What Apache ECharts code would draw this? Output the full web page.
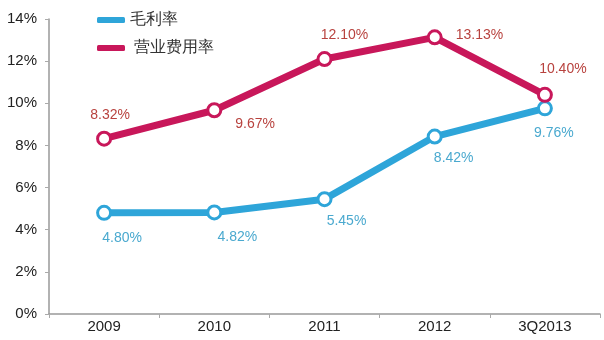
<!DOCTYPE html>
<html><head><meta charset="utf-8">
<script src="https://cdn.jsdelivr.net/npm/echarts@6/dist/echarts.min.js"></script>
<style>html,body{margin:0;padding:0;background:#fff}#c{width:604px;height:340px}</style>
</head><body><div id="c"></div>
<script>
const categories = ['2009','2010','2011','2012','3Q2013'];
const grossMargin = [4.80, 4.82, 5.45, 8.42, 9.76];
const expenseRate = [8.32, 9.67, 12.10, 13.13, 10.40];
const yTicks = [0,2,4,6,8,10,12,14];
const seriesNames = ['毛利率','营业费用率'];

const blue = '#2ea5d9', red = '#c8175a';
const font = '"Liberation Sans", Arial, sans-serif';
const redLabelPos = [
  {position:'top', offset:[6,-4]},
  {position:'right', offset:[8,14]},
  {position:'top', offset:[20,-4]},
  {position:'right', offset:[8,-2]},
  {position:'top', offset:[18,-6]}
];
const blueLabelPos = [
  {position:'bottom', offset:[18,5]},
  {position:'bottom', offset:[23,5]},
  {position:'bottom', offset:[22,2]},
  {position:'bottom', offset:[19,2]},
  {position:'bottom', offset:[9,5]}
];
const chart = echarts.init(document.getElementById('c'));
chart.setOption({
  animation:false,
  textStyle:{fontFamily:font},
  grid:{left:49,right:4,top:19,bottom:26,containLabel:false},
  legend:{
    orient:'vertical', left:92, top:7, itemGap:12, itemWidth:28, itemHeight:6,
    textStyle:{fontSize:16,color:'#333',fontFamily:font},
    formatter:n=> n===seriesNames[1] ? ' '+n : n,
    data:[
      {name:seriesNames[0],icon:'roundRect',itemStyle:{color:blue,borderWidth:0}},
      {name:seriesNames[1],icon:'roundRect',itemStyle:{color:red,borderWidth:0}}
    ]
  },
  xAxis:{
    type:'category', data:categories, boundaryGap:true,
    axisLine:{lineStyle:{color:'#999',width:1.5}},
    axisTick:{show:true,length:4,inside:false,lineStyle:{color:'#aaa'}},
    axisLabel:{color:'#222',fontSize:15,margin:5}
  },
  yAxis:{
    type:'value', min:0, max:14, interval:2,
    axisLine:{show:true,lineStyle:{color:'#999',width:1.5}},
    axisTick:{show:true,length:4,lineStyle:{color:'#aaa'}},
    splitLine:{show:false},
    axisLabel:{color:'#222',fontSize:15,margin:12,formatter:v=>v+'%'}
  },
  series:[
    {name:seriesNames[0],type:'line',data:grossMargin.map((v,i)=>({value:v,label:blueLabelPos[i]})),
     lineStyle:{color:blue,width:7},itemStyle:{color:'#fff',borderColor:blue,borderWidth:3},
     symbol:'circle',symbolSize:13,color:blue,z:2,
     label:{show:true,color:'#4aa9cf',fontSize:14,formatter:p=>p.value.toFixed(2)+'%'}},
    {name:seriesNames[1],type:'line',data:expenseRate.map((v,i)=>({value:v,label:redLabelPos[i]})),
     lineStyle:{color:red,width:7},itemStyle:{color:'#fff',borderColor:red,borderWidth:3},
     symbol:'circle',symbolSize:13,color:red,z:3,
     label:{show:true,color:'#b8423e',fontSize:14,formatter:p=>p.value.toFixed(2)+'%'}}
  ]
});
</script></body></html>
